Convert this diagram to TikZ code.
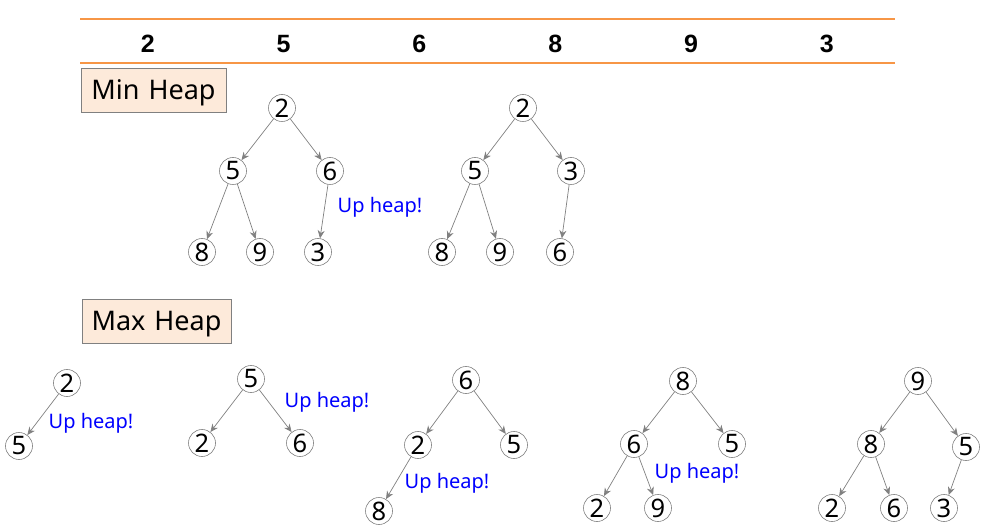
\documentclass[tikz,border=0pt]{standalone}
\usepackage{fontspec}
\setmainfont{Noto Sans}
\newfontfamily\cellfont{Liberation Sans}
\usetikzlibrary{arrows.meta}
\definecolor{hdrorange}{RGB}{247,150,70}
\definecolor{boxfill}{RGB}{253,234,218}
\definecolor{edgegray}{RGB}{128,128,128}
\tikzset{
  key/.style={circle, draw=edgegray, line width=0.6pt, inner sep=0pt, minimum size=27pt,
    font=\fontsize{25.5}{25.5}\selectfont},
  link/.style={draw=edgegray, line width=0.7pt, -{Stealth[length=8pt,width=7pt]}},
  heapbox/.style={draw=edgegray, line width=0.7pt, fill=boxfill, inner sep=0pt,
    minimum height=44pt, text depth=0pt, font=\fontsize{27}{27}\selectfont},
  note/.style={text=blue, font=\fontsize{20}{20}\selectfont},
  cell/.style={font=\cellfont\bfseries\fontsize{25}{25}\selectfont}
}
\begin{document}
\begin{tikzpicture}[x=1pt,y=-1pt]
  \useasboundingbox (0,0) rectangle (990,526);
  % array
  \coordinate (hl1) at (80,19);  \coordinate (hr1) at (895,19);
  \coordinate (hl2) at (80,63);  \coordinate (hr2) at (895,63);
  \draw [hdrorange, line width=1.4pt] (hl1) -- (hr1);
  \draw [hdrorange, line width=1.4pt] (hl2) -- (hr2);
  \foreach \v [count=\i] in {2,5,6,8,9,3}
    \node [cell] (c\i) at (12+135.8*\i,44) {\v};

  % min heap
  \node [heapbox, minimum width=145pt] (minbox) at (153.5,90) {Min\,\,Heap};
  \node [key] (a1) at (282,108) {2};
  \node [key] (a2) at (233,171) {5};
  \node [key] (a3) at (330,171) {6};
  \node [key] (a4) at (202,252) {8};
  \node [key] (a5) at (260,252) {9};
  \node [key] (a6) at (318,252) {3};
  \draw [link] (a1) -- (a2);
  \draw [link] (a1) -- (a3);
  \draw [link] (a2) -- (a4);
  \draw [link] (a2) -- (a5);
  \draw [link] (a3) -- (a6);
  \node [note] (up1) at (380,207) {Up heap!};

  \node [key] (b1) at (523,108) {2};
  \node [key] (b2) at (475,171) {5};
  \node [key] (b3) at (571,171) {3};
  \node [key] (b4) at (442,252) {8};
  \node [key] (b5) at (500,252) {9};
  \node [key] (b6) at (560,252) {6};
  \draw [link] (b1) -- (b2);
  \draw [link] (b1) -- (b3);
  \draw [link] (b2) -- (b4);
  \draw [link] (b2) -- (b5);
  \draw [link] (b3) -- (b6);

  % max heap
  \node [heapbox, minimum width=149pt] (maxbox) at (156.5,321) {Max\,\,Heap};
  \node [key] (d1) at (67,383) {2};
  \node [key] (d2) at (19,446) {5};
  \draw [link] (d1) -- (d2);
  \node [note] (up2) at (91,423) {Up heap!};

  \node [key] (e1) at (251,379) {5};
  \node [key] (e2) at (202,443) {2};
  \node [key] (e3) at (300,443) {6};
  \draw [link] (e1) -- (e2);
  \draw [link] (e1) -- (e3);
  \node [note] (up3) at (327,402) {Up heap!};

  \node [key] (f1) at (466,380) {6};
  \node [key] (f2) at (418,445) {2};
  \node [key] (f3) at (514,445) {5};
  \node [key] (f4) at (379,511) {8};
  \draw [link] (f1) -- (f2);
  \draw [link] (f1) -- (f3);
  \draw [link] (f2) -- (f4);
  \node [note] (up4) at (447,483) {Up heap!};

  \node [key] (g1) at (683,381) {8};
  \node [key] (g2) at (634,444) {6};
  \node [key] (g3) at (732,444) {5};
  \node [key] (g4) at (597,508) {2};
  \node [key] (g5) at (658,508) {9};
  \draw [link] (g1) -- (g2);
  \draw [link] (g1) -- (g3);
  \draw [link] (g2) -- (g4);
  \draw [link] (g2) -- (g5);
  \node [note] (up5) at (697,473) {Up heap!};

  \node [key] (h1) at (918,381) {9};
  \node [key] (h2) at (871,444) {8};
  \node [key] (h3) at (966,447) {5};
  \node [key] (h4) at (832,508) {2};
  \node [key] (h5) at (894,508) {6};
  \node [key] (h6) at (944,508) {3};
  \draw [link] (h1) -- (h2);
  \draw [link] (h1) -- (h3);
  \draw [link] (h2) -- (h4);
  \draw [link] (h2) -- (h5);
  \draw [link] (h3) -- (h6);
\end{tikzpicture}
\end{document}
